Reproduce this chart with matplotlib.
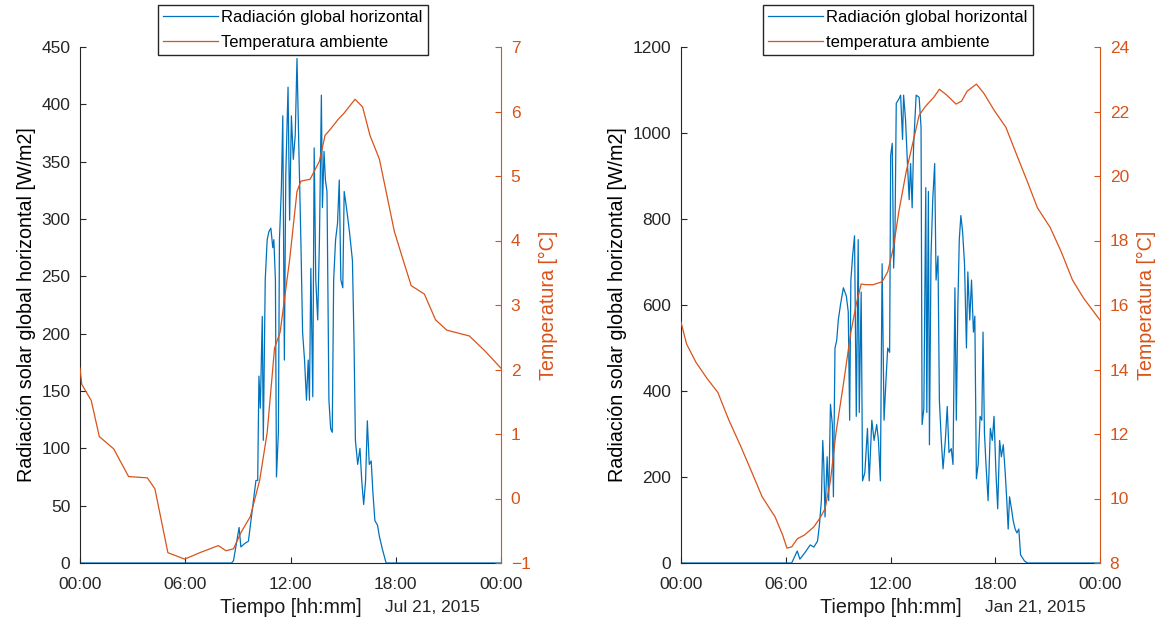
import matplotlib
matplotlib.use('Agg')
import matplotlib.pyplot as plt

plt.rcParams['font.family'] = ['Liberation Sans', 'DejaVu Sans']

AZUL = '#0072BD'
NARANJA = '#D95319'
GRIS = '#262626'

horas_ticks = [0, 6, 12, 18, 24]
etiquetas_ticks = ['00:00', '06:00', '12:00', '18:00', '00:00']

# --- Julio 21, 2015 ---
jul_rad_h = [0, 8.64, 8.75, 9.07, 9.17, 9.39, 9.60, 9.77, 10.03, 10.13, 10.20, 10.28,
             10.39, 10.45, 10.56, 10.67, 10.77, 10.88, 10.99, 11.05, 11.14, 11.20, 11.31,
             11.37, 11.48, 11.56, 11.65, 11.73, 11.86, 11.95, 12.05, 12.16, 12.27, 12.37,
             12.48, 12.59, 12.69, 12.80, 12.91, 13.01, 13.08, 13.16, 13.27, 13.35, 13.44,
             13.55, 13.65, 13.76, 13.82, 13.91, 13.99, 14.08, 14.19, 14.29, 14.38, 14.46,
             14.57, 14.68, 14.78, 14.87, 14.98, 15.06, 15.19, 15.36, 15.53, 15.62, 15.70,
             15.83, 15.96, 16.06, 16.17, 16.28, 16.38, 16.49, 16.60, 16.70, 16.81, 16.96,
             17.07, 17.24, 17.45, 24]
jul_rad = [0, 0, 2, 31, 14, 17, 19, 40, 72, 72, 163, 135,
           215, 107, 247, 282, 289, 292, 275, 282, 247, 75, 114,
           282, 327, 390, 177, 338, 415, 299, 390, 352, 373, 440,
           359, 282, 201, 177, 142, 177, 142, 257, 145, 362, 247,
           212, 282, 408, 310, 359, 334, 324, 142, 117, 114, 247,
           282, 296, 334, 247, 240, 324, 310, 289, 264, 194, 107,
           86, 100, 72, 51, 72, 124, 86, 89, 61, 37, 33,
           23, 12, 0, 0]

jul_temp_h = [0, 0.1, 0.64, 1.1, 1.92, 2.77, 3.84, 4.27, 5.01, 5.97, 6.83, 7.89, 8.32,
              8.75, 9.17, 9.71, 10.24, 10.67, 11.09, 11.41, 11.95, 12.37, 12.59, 13.12,
              13.65, 13.97, 14.29, 14.72, 15.04, 15.68, 16.11, 16.53, 17.07, 17.92, 18.35,
              18.88, 19.63, 20.27, 20.91, 22.19, 23.04, 24]
jul_temp = [2.02, 1.77, 1.52, 0.96, 0.77, 0.34, 0.32, 0.15, -0.84, -0.94, -0.84, -0.73, -0.81,
            -0.78, -0.53, -0.28, 0.28, 1.02, 2.33, 2.58, 3.70, 4.76, 4.92, 4.95,
            5.23, 5.63, 5.73, 5.88, 5.97, 6.19, 6.07, 5.63, 5.26, 4.14, 3.76,
            3.30, 3.17, 2.77, 2.61, 2.52, 2.30, 2.02]

# --- Enero 21, 2015 ---
ene_rad_h = [0, 6.34, 6.66, 6.81, 7.08, 7.40, 7.61, 7.82, 7.93, 8.04, 8.12, 8.18, 8.25,
             8.37, 8.46, 8.56, 8.67, 8.73, 8.82, 8.92, 9.01, 9.14, 9.30, 9.47, 9.58, 9.66,
             9.73, 9.83, 9.94, 10.04, 10.15, 10.21, 10.32, 10.40, 10.53, 10.68, 10.78,
             10.93, 11.06, 11.21, 11.31, 11.42, 11.52, 11.63, 11.74, 11.84, 11.95, 12.01,
             12.10, 12.18, 12.26, 12.33, 12.48, 12.58, 12.69, 12.75, 12.86, 12.96, 13.07,
             13.15, 13.24, 13.32, 13.41, 13.47, 13.64, 13.75, 13.81, 13.91, 14.02, 14.08,
             14.17, 14.23, 14.32, 14.42, 14.53, 14.61, 14.72, 14.80, 14.91, 15.01, 15.14,
             15.25, 15.35, 15.48, 15.58, 15.69, 15.77, 15.86, 15.94, 16.03, 16.13, 16.24,
             16.35, 16.43, 16.54, 16.64, 16.75, 16.83, 16.92, 17.02, 17.13, 17.23, 17.30,
             17.38, 17.47, 17.59, 17.72, 17.83, 17.93, 18.04, 18.14, 18.25, 18.35, 18.46,
             18.57, 18.65, 18.74, 18.82, 18.93, 19.03, 19.14, 19.24, 19.35, 19.45, 19.67,
             19.84, 24]
ene_rad = [0, 0, 28, 9, 23, 42, 37, 51, 89, 145, 285, 229, 107,
           247, 145, 369, 322, 154, 500, 518, 565, 602, 640, 621, 584, 332,
           658, 714, 761, 341, 752, 350, 630, 191, 210, 313, 191,
           332, 285, 322, 285, 191, 696, 332, 425, 500, 490, 948,
           976, 686, 780, 1069, 1079, 1088, 985, 1088, 1032, 938, 845,
           929, 826, 966, 1041, 1088, 1083, 1013, 322, 360, 873, 350,
           864, 275, 714, 845, 929, 658, 714, 378, 285, 219, 285,
           364, 257, 266, 229, 640, 332, 602, 752, 808, 770, 696,
           500, 677, 565, 658, 537, 574, 196, 229, 341, 332, 537,
           304, 229, 145, 313, 285, 341, 210, 126, 285, 247, 275,
           210, 154, 79, 154, 126, 98, 79, 70, 79, 19, 5,
           0, 0]

ene_temp_h = [0, 0.32, 0.85, 1.48, 2.11, 2.75, 3.38, 4.02, 4.65, 5.39, 5.82, 6.07, 6.34,
              6.66, 7.08, 7.61, 7.93, 8.25, 8.56, 8.88, 9.30, 9.73, 10.04, 10.32, 10.57,
              11.0, 11.52, 11.84, 12.16, 12.48, 12.90, 13.22, 13.64, 13.96, 14.17, 14.48,
              14.80, 15.22, 15.75, 16.07, 16.39, 16.92, 17.34, 17.97, 18.61, 19.24, 19.88,
              20.41, 21.15, 21.78, 22.42, 23.05, 24]
ene_temp = [15.47, 14.79, 14.23, 13.73, 13.29, 12.42, 11.67, 10.86, 10.05, 9.43, 8.87, 8.46, 8.50,
            8.75, 8.87, 9.12, 9.37, 9.68, 10.55, 12.05, 13.54, 15.16, 16.03, 16.65, 16.63,
            16.63, 16.72, 17.03, 17.77, 18.90, 20.14, 20.89, 21.88, 22.13, 22.26, 22.44,
            22.69, 22.51, 22.23, 22.32, 22.63, 22.85, 22.57, 22.01, 21.51, 20.64, 19.77,
            19.02, 18.40, 17.65, 16.78, 16.22, 15.53]

temp_leyenda = {'Jul 21, 2015': 'Temperatura ambiente',
                'Jan 21, 2015': 'temperatura ambiente'}


def panel(fig, pos, rad_h, rad, temp_h, temp, rad_lim, rad_ticks,
          temp_lim, temp_ticks, fecha, legend_x):
    ax = fig.add_axes(pos)
    ax2 = ax.twinx()

    l1, = ax.plot(rad_h, rad, color=AZUL, lw=0.9)
    l2, = ax2.plot(temp_h, temp, color=NARANJA, lw=0.9)

    ax.set_xlim(0, 24)
    ax.set_ylim(*rad_lim)
    ax.set_yticks(rad_ticks)
    ax.set_xticks(horas_ticks)
    ax.set_xticklabels(etiquetas_ticks)
    ax2.set_ylim(*temp_lim)
    ax2.set_yticks(temp_ticks)

    for s in ['top', 'right']:
        ax.spines[s].set_visible(False)
    for s in ['top', 'left', 'bottom']:
        ax2.spines[s].set_visible(False)
    ax.spines['left'].set_color(GRIS)
    ax.spines['bottom'].set_color(GRIS)
    ax2.spines['right'].set_color(NARANJA)

    ax.tick_params(axis='y', direction='in', length=4, color=GRIS,
                   labelcolor=GRIS, labelsize=12.5, pad=7)
    ax.tick_params(axis='x', direction='in', length=4, color=GRIS,
                   labelcolor=GRIS, labelsize=12.5, pad=10)
    ax2.tick_params(axis='y', direction='in', length=4, color=NARANJA,
                    labelcolor=NARANJA, labelsize=12.5, pad=7)

    ax.set_ylabel('Radiación solar global horizontal [W/m2]', fontsize=14.2,
                  color='black', labelpad=4)
    ax2.set_ylabel('Temperatura [°C]', fontsize=14.2, color=NARANJA, labelpad=6)
    ax.set_xlabel('Tiempo [hh:mm]', fontsize=14.2, color='#1a1a1a')
    ax.xaxis.set_label_coords(0.5, -0.068)
    ax.text(0.725, -0.072, fecha, transform=ax.transAxes, fontsize=12.5,
            color=GRIS, va='top', ha='left')

    ax2.legend([l1, l2], ['Radiación global horizontal', temp_leyenda[fecha]],
               loc='upper left', bbox_to_anchor=(legend_x, 1 - 5 / 629),
               bbox_transform=fig.transFigure, borderaxespad=0,
               fancybox=False, framealpha=1, edgecolor=GRIS,
               fontsize=12, handlelength=3.3, handletextpad=0.2,
               borderpad=0.3, labelspacing=0.6)
    return ax, ax2


fig = plt.figure(figsize=(11.73, 6.29), dpi=100)

panel(fig, [80 / 1173, 66 / 629, 421 / 1173, 516 / 629],
      jul_rad_h, jul_rad, jul_temp_h, jul_temp,
      (0, 450), range(0, 451, 50), (-1, 7), range(-1, 8),
      'Jul 21, 2015', 158 / 1173)

panel(fig, [681 / 1173, 66 / 629, 419 / 1173, 516 / 629],
      ene_rad_h, ene_rad, ene_temp_h, ene_temp,
      (0, 1200), range(0, 1201, 200), (8, 24), range(8, 25, 2),
      'Jan 21, 2015', 763 / 1173)

fig.savefig('out.png', dpi=100)
